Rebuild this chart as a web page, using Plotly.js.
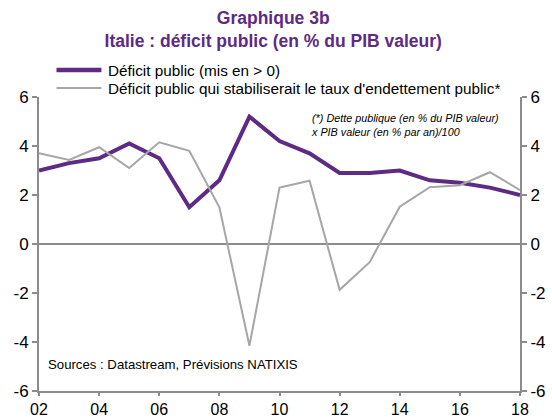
<!DOCTYPE html>
<html>
<head>
<meta charset="utf-8">
<script src="https://cdn.plot.ly/plotly-3.0.1.min.js"></script>
<style>
html,body{margin:0;padding:0;background:#fff;}
#chart{width:552px;height:419px;}
</style>
</head>
<body>
<div id="chart"></div>
<script>
var years = [2002,2003,2004,2005,2006,2007,2008,2009,2010,2011,2012,2013,2014,2015,2016,2017,2018];
var deficit = [3.0,3.3,3.5,4.1,3.5,1.5,2.6,5.2,4.2,3.7,2.9,2.9,3.0,2.6,2.5,2.3,2.0];
var stabilising = [3.7,3.43,3.95,3.1,4.15,3.8,1.5,-4.15,2.3,2.58,-1.87,-0.74,1.52,2.32,2.4,2.93,2.2];
var xTickVals = [2002,2004,2006,2008,2010,2012,2014,2016,2018];
var xTickText = ["02","04","06","08","10","12","14","16","18"];
var yTickVals = [-6,-4,-2,0,2,4,6];
var yTickText = ["-6","-4","-2","0","2","4","6"];
var seriesNames = ["Déficit public (mis en > 0)", "Déficit public qui stabiliserait le taux d'endettement public*"];

var purple = "#5E2A84";
var grey = "#A6A6A6";
var axisGrey = "#8C8C8C";
var font = "Liberation Sans, Arial, sans-serif";

var W = 552, H = 419;
var M = {l: 38.5, r: 32, t: 97, b: 27.8};
var plotW = W - M.l - M.r, plotH = H - M.t - M.b;
function px(x) { return (x - M.l) / plotW; }
function py(y) { return (H - M.b - y) / plotH; }

var traces = [
  {x: years, y: deficit, type: "scatter", mode: "lines", name: seriesNames[0],
   line: {color: purple, width: 4}},
  {x: years, y: stabilising, type: "scatter", mode: "lines", name: seriesNames[1],
   line: {color: grey, width: 2}},
  {x: years, y: deficit, type: "scatter", mode: "lines", yaxis: "y2", showlegend: false,
   hoverinfo: "skip", line: {color: "rgba(0,0,0,0)", width: 0}}
];

var legendStyles = [{color: purple, width: 4.5}, {color: grey, width: 2}];
var legendY = [70, 88];
var shapes = [], annotations = [];
seriesNames.forEach(function (n, i) {
  shapes.push({type: "line", xref: "paper", yref: "paper",
    x0: px(56), x1: px(101), y0: py(legendY[i]), y1: py(legendY[i]),
    line: legendStyles[i]});
  annotations.push({text: n, xref: "paper", yref: "paper", x: px(106), y: py(legendY[i]),
    xanchor: "left", yanchor: "middle", showarrow: false,
    font: {family: font, size: 15.3, color: "#000"}});
});

annotations.push(
  {text: "<i>(*) Dette publique (en % du PIB valeur)</i><br><i>x PIB valeur (en % par an)/100</i>",
   xref: "paper", yref: "paper", x: px(309), y: py(110), xanchor: "left", yanchor: "top",
   align: "left", showarrow: false, font: {family: font, size: 10.8, color: "#000"}},
  {text: "Sources : Datastream, Prévisions NATIXIS",
   xref: "paper", yref: "paper", x: px(46), y: py(365), xanchor: "left", yanchor: "middle",
   align: "left", showarrow: false, font: {family: font, size: 13.2, color: "#000"}}
);

var tickFont = {family: font, size: 17, color: "#000"};
var xTickFont = {family: font, size: 16, color: "#000"};

var layout = {
  width: W, height: H,
  margin: M,
  paper_bgcolor: "#fff", plot_bgcolor: "#fff",
  font: {family: font, size: 13, color: "#000"},
  showlegend: false,
  title: {
    text: "<b>Graphique 3b</b><br><b>Italie : déficit public (en % du PIB valeur)</b>",
    font: {family: font, size: 17.5, color: purple},
    x: 0.495, xanchor: "center", xref: "container",
    yref: "container", y: 1 - 24 / H, yanchor: "middle"
  },
  xaxis: {
    range: [2002, 2018], tickvals: xTickVals, ticktext: xTickText,
    showgrid: false, zeroline: false, showline: true, linecolor: axisGrey, linewidth: 2,
    ticks: "outside", ticklen: 3, tickcolor: axisGrey, tickwidth: 2,
    tickfont: xTickFont, fixedrange: true
  },
  yaxis: {
    range: [-6, 6], tickvals: yTickVals, ticktext: yTickText,
    showgrid: false, zeroline: true, zerolinecolor: axisGrey, zerolinewidth: 2,
    showline: true, linecolor: axisGrey, linewidth: 2,
    ticks: "outside", ticklen: 5, tickcolor: axisGrey, tickwidth: 2,
    tickfont: tickFont, fixedrange: true
  },
  yaxis2: {
    range: [-6, 6], tickvals: yTickVals, ticktext: yTickText, overlaying: "y", side: "right",
    showgrid: false, zeroline: false, showline: true, linecolor: axisGrey, linewidth: 2,
    ticks: "outside", ticklen: 5, tickcolor: axisGrey, tickwidth: 2,
    tickfont: tickFont, fixedrange: true
  },
  shapes: shapes,
  annotations: annotations
};

Plotly.newPlot("chart", traces, layout, {displayModeBar: false, staticPlot: true});
</script>
</body>
</html>
